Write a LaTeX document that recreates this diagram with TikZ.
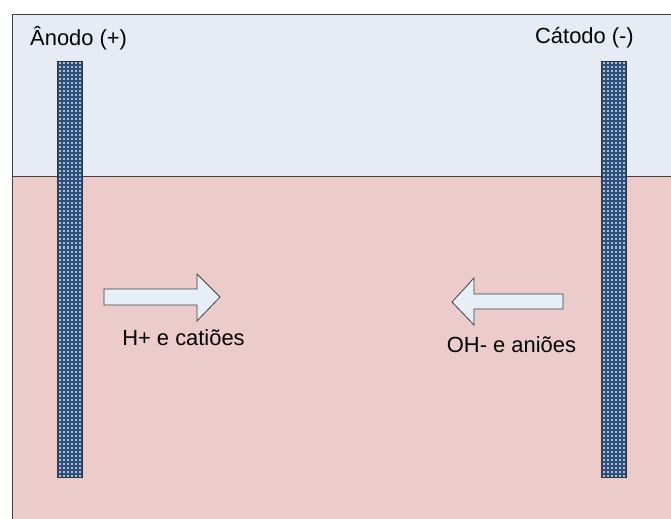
\documentclass[tikz,border=0pt]{standalone}
\usepackage{fontspec}
\setmainfont{Liberation Sans}
\definecolor{topbg}{HTML}{E6ECF6}
\definecolor{botbg}{HTML}{EBCCCB}
\definecolor{framec}{HTML}{404040}
\definecolor{elec}{HTML}{2E4E7C}
\definecolor{elecdot}{HTML}{A9BCD8}
\definecolor{arrowfill}{HTML}{E6EEF8}
\tikzset{
  lbl/.style={font=\fontsize{22}{26}\selectfont, text=black, inner sep=0pt},
  blockarrow/.style={fill=arrowfill, draw=framec, line width=0.8bp, line join=miter},
  electrode/.style={fill=elec, draw=black!80, line width=0.8bp}
}
\begin{document}
\begin{tikzpicture}[x=1bp,y=-1bp]
\useasboundingbox (0,0) rectangle (671,519);
% backgrounds
\fill[white] (0,0) rectangle (671,519);
\fill[topbg] (12,15) rectangle (671,177);
\fill[botbg] (12,177) rectangle (671,519);
\draw[framec, line width=1bp] (12,519) -- (12,15) -- (671,15);
\draw[framec, line width=1bp] (12,177) -- (671,177);
% electrodes
\foreach \xa in {57,601}{
  \fill[elec] (\xa,61) rectangle ++(25,416);
  \foreach \i in {0,...,5}{
    \foreach \j in {0,...,103}{
      \fill[elecdot] ({\xa+2.2+\i*4},{62.5+\j*4}) rectangle ++(2,2);
    }
  }
  \draw[black!80, line width=0.8bp] (\xa,61) rectangle ++(25,416);
}
\node[coordinate] (anode) at (69.5,61) {};
\node[coordinate] (cathode) at (613.5,61) {};
% labels
\node[lbl, anchor=west] (lanode) at (30,38) {Ânodo (+)};
\node[lbl, anchor=east] (lcathode) at (634,38) {Cátodo (-)};
% arrows
\draw[blockarrow] (104,289) -- (197,289) -- (197,274) -- (220,297) -- (197,321) -- (197,305) -- (104,305) -- cycle;
\draw[blockarrow] (563,294) -- (474,294) -- (474,278) -- (452,302) -- (474,325) -- (474,309) -- (563,309) -- cycle;
\node[lbl] (lcat) at (183.5,338) {H+ e catiões};
\node[lbl] (lan) at (511.5,345) {OH- e aniões};
\end{tikzpicture}
\end{document}
